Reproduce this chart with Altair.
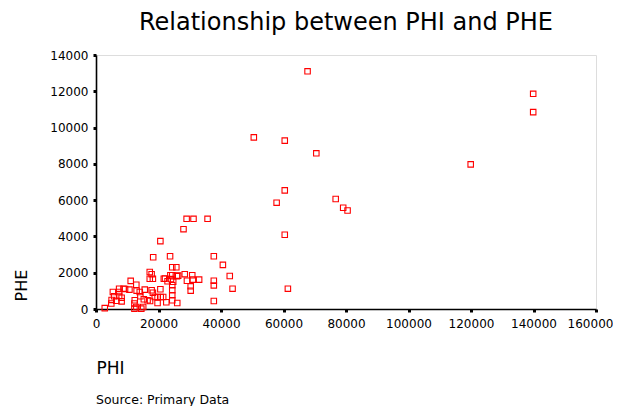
import altair as alt
import pandas as pd

# PHI (x) and PHE (y) values
phi = [
    67700, 50500, 60400, 70500, 60400, 57800, 76700, 79100, 80500, 60400, 61400,
    139900, 139900, 119900,
    29000, 31200, 35700, 28000, 20600, 18300, 23700, 37700, 40600, 42800, 43700,
    37700, 37700, 37700,
    24400, 25700, 17200, 17800, 17200, 18200, 21700, 22900, 24400, 25900, 24000,
    24700, 24400, 24400, 24400, 28400, 30800, 29100, 31000, 33000, 30300, 30300,
    17800, 20600, 18200, 18800, 19700, 20700, 21500, 22500, 19700, 17300, 16500,
    26000, 24400, 15600, 15300, 14000, 14200, 12900, 11100, 9300, 12300, 12300,
    14500, 2800, 5000, 5800, 6500, 7400, 8800, 7400, 7400, 8200, 8200, 10700,
    13000, 12400, 15100, 12900, 5400, 4900, 26300, 23800, 22100,
]
phe = [
    13100, 9460, 9280, 8580, 6540, 5860, 6060, 5580, 5430, 4090, 1120,
    11860, 10850, 7970,
    4970, 4970, 4970, 4400, 3740, 2850, 2910, 2910, 2430, 1820, 1120,
    1560, 1300, 440,
    2300, 2300, 2040, 1920, 1670, 1670, 1670, 1530, 1860, 1810, 1650,
    1500, 1310, 1030, 760, 1920, 1860, 1560, 1620, 1620, 1250, 1010,
    1030, 1090, 900, 660, 660, 660, 660, 370, 330, 440, 480,
    330, 480, 1070, 540, 940, 700, 1340, 1550, 1100, 300, 20,
    20, 50, 500, 700, 450, 1120, 1120, 940, 720, 620, 420, 1070,
    1010, 480, 110, 110, 940, 300, 1840, 1860, 1680,
]

x_ticks = [0, 20000, 40000, 60000, 80000, 100000, 120000, 140000, 160000]
y_ticks = [0, 2000, 4000, 6000, 8000, 10000, 12000, 14000]

chart_title = ["Relationship between PHI and PHE"]
x_title = "PHI"
y_title = "PHE"
source_note = ["Source: Primary Data"]

FONT = "DejaVu Sans"

df = pd.DataFrame({"PHI": phi, "PHE": phe})

points = alt.Chart(df).mark_point(
    shape="square", filled=False, color="#ff0000", size=30, strokeWidth=1.1, opacity=1
).encode(
    x=alt.X(
        "PHI:Q",
        scale=alt.Scale(domain=[0, 160000], nice=False, zero=True),
        axis=alt.Axis(
            values=x_ticks, format="d", grid=False, title=x_title,
            titleX=0, titleY=64, titleAlign="left", titleBaseline="alphabetic",
            titleFont=FONT, titleFontSize=17, titleFontWeight="normal", titleColor="black",
            labelFont=FONT, labelFontSize=12, labelColor="black", labelPadding=6,
            labelOffset={"condition": {"test": "datum.value == 160000", "value": -6}, "value": 0},
            tickSize=3, tickWidth=3, tickColor="black",
            domainColor="black", domainWidth=1.6, labelFlush=False, labelOverlap=False,
        ),
    ),
    y=alt.Y(
        "PHE:Q",
        scale=alt.Scale(domain=[0, 14000], nice=False, zero=True),
        axis=alt.Axis(
            values=y_ticks, format="d", grid=False, title=y_title,
            titleX=-70, titleY=230, titleAlign="center", titleBaseline="alphabetic",
            titleAngle=-90,
            titleFont=FONT, titleFontSize=16, titleFontWeight="normal", titleColor="black",
            labelFont=FONT, labelFontSize=12, labelColor="black", labelPadding=5,
            tickSize=3, tickWidth=3, tickColor="black",
            domainColor="black", domainWidth=1.6, labelFlush=False, labelOverlap=False,
        ),
    ),
)

note = alt.Chart(pd.DataFrame({"t": source_note})).mark_text(
    align="left", baseline="alphabetic", font=FONT, fontSize=12.5, color="black"
).encode(x=alt.value(0), y=alt.value(349), text="t:N")

heading = alt.Chart(pd.DataFrame({"t": chart_title})).mark_text(
    align="center", baseline="alphabetic", font=FONT, fontSize=24, color="black"
).encode(x=alt.value(250), y=alt.value(-25), text="t:N")

chart = alt.layer(points, note, heading).properties(
    width=500,
    height=254,
    padding={"left": 88, "top": 47, "right": 17, "bottom": 97},
    autosize=alt.AutoSizeParams(type="none"),
).configure_view(stroke="#444444", strokeWidth=1).configure(background="white")

chart.save("out.html", embed_options={"renderer": "svg", "actions": False})
